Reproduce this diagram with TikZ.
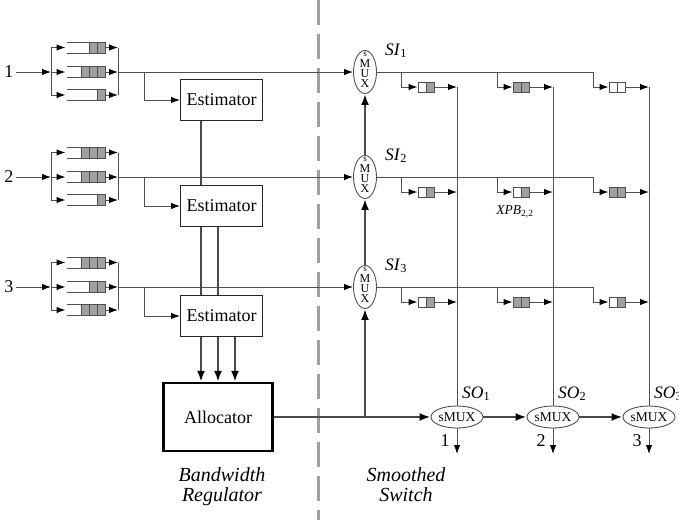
\documentclass[tikz,border=0pt]{standalone}
\usepackage{fontspec}
\setmainfont{Liberation Serif}
\usetikzlibrary{arrows.meta,shapes.geometric,calc}
\definecolor{lc}{HTML}{505050}
\definecolor{tc}{HTML}{4A4A4A}
\definecolor{cg}{HTML}{A0A0A0}
\definecolor{dg}{HTML}{A0A0A0}
\newcommand\fsz[1]{\fontsize{#1}{#1}\selectfont}
\begin{document}
\begin{tikzpicture}[x=1pt,y=-1pt,
  ln/.style={draw=lc, line width=1pt},
  arr/.style={ln, -{Latex[length=9pt,width=6.5pt,black]}},
  thk/.style={draw=tc, line width=2.2pt},
  tarr/.style={thk, -{Latex[length=11pt,width=8pt,black]}},
  estbox/.style={draw=black!85, line width=1pt, minimum width=82pt, minimum height=41pt, inner sep=0pt, font=\fsz{18}},
  allocbox/.style={draw=black, line width=2.4pt, minimum width=109pt, minimum height=68pt, inner sep=0pt, font=\fsz{18}},
  qnode/.style={minimum width=38pt, minimum height=11pt, inner sep=0pt, outer sep=0pt},
  bnode/.style={minimum width=16pt, minimum height=10pt, inner sep=0pt, outer sep=0pt},
  cell/.style={draw=lc, line width=0.7pt, fill=cg},
  smuxv/.style={ellipse, draw=lc, line width=0.9pt, minimum width=23pt, minimum height=43pt, inner sep=0pt},
  smuxh/.style={ellipse, draw=lc, line width=0.9pt, minimum width=52pt, minimum height=22pt, inner sep=0pt},
  lab/.style={font=\fsz{18}, inner sep=0pt},
  mletter/.style={font=\fsz{12}, inner sep=0pt},
  captxt/.style={font=\fsz{20}\itshape, anchor=base, inner sep=0pt}
]
\useasboundingbox (0,0) rectangle (679,520);

% dashed divider
\coordinate (dtop) at (318,0);
\coordinate (dbot) at (318,520);
\draw[dg, line width=3pt, dash pattern=on 25pt off 9pt] (dtop) -- (dbot);

% estimators and allocator
\node[estbox] (est1) at (221.5,100) {Estimator};
\node[estbox] (est2) at (221.5,206) {Estimator};
\node[estbox] (est3) at (221.5,316) {Estimator};
\node[allocbox] (alloc) at (218,417) {Allocator};

% input side
\foreach \i/\y/\a/\b/\c in {1/72/2/3/1, 2/177/3/3/1, 3/287/3/2/3} {
  \node[lab] (in\i) at (9,\y) {\i};
  \coordinate (ia\i) at (16,\y);
  \foreach \j/\dy/\n in {1/-24.5/\a, 2/0/\b, 3/23/\c} {
    \node[qnode] (q\i\j) at (86,\y+\dy) {};
    \coordinate (sp\i\j) at (51,\y+\dy);
    \coordinate (mp\i\j) at (118,\y+\dy);
    \draw[ln] (q\i\j.north west) -- (q\i\j.north east) -- (q\i\j.south east) -- (q\i\j.south west);
    \foreach \k in {1,...,\n} {
      \draw[cell] ($(q\i\j.north east)+({-8*\k},0)$) rectangle ($(q\i\j.south east)+({-8*(\k-1)},0)$);
    }
    \draw[arr, shorten >=1.5pt] (sp\i\j) -- (q\i\j.west);
    \draw[arr] (q\i\j.east) -- (mp\i\j);
  }
  \draw[ln] (sp\i1) -- (sp\i3);
  \draw[ln] (mp\i1) -- (mp\i3);
  \draw[arr] (ia\i) -- (sp\i2);
  % smoothed input multiplexer
  \node[smuxv] (si\i) at (365,\y) {};
  \node[font=\fsz{9}, inner sep=0pt, anchor=base] (ss\i) at (365,\y-15.5) {s};
  \node[mletter, anchor=base] (sm\i) at (365,\y-5) {M};
  \node[mletter, anchor=base] (su\i) at (365,\y+5) {U};
  \node[mletter, anchor=base] (sx\i) at (365,\y+15) {X};
  \node[font=\fsz{17.5}, anchor=base west, inner sep=0pt] (sil\i) at (385,\y-17) {\textit{SI}\textsubscript{\i}};
  \draw[arr] (mp\i2) -- (si\i.west);
  \coordinate (br\i) at (144,\y);
  \draw[arr] (br\i) |- (est\i.west);
}

% estimator chain
\draw[thk] ([xshift=-20.5pt]est1.south) -- ([xshift=-20.5pt]est2.north);
\draw[thk] ([xshift=-20.5pt]est2.south) -- ([xshift=-20.5pt]est3.north);
\draw[thk] ([xshift=-3.5pt]est2.south) -- ([xshift=-3.5pt]est3.north);
\foreach \s in {-20.5,-3.5,13.5} {
  \draw[tarr] ([xshift=\s pt]est3.south) -- ([xshift=\s pt]est3.south |- alloc.north);
}

% output multiplexers
\foreach \j/\x in {1/457, 2/553, 3/649} {
  \node[smuxh] (so\j) at (\x,417) {};
  \node[font=\fsz{13.5}, inner sep=0pt] at (so\j) {sMUX};
  \node[font=\fsz{17.5}, anchor=base west, inner sep=0pt] (sol\j) at (\x+5,398) {\textit{SO}\textsubscript{\j}};
  \coordinate (out\j) at (\x,454);
  \draw[arr] (so\j.south) -- (out\j);
  \node[lab] (ol\j) at (\x-12,441) {\j};
}

% switch crosspoint buffers
\foreach \i/\y/\fa/\fb/\fc/\fd/\fe/\ff in {1/72/white/cg/cg/cg/white/white, 2/177/white/cg/white/cg/cg/cg, 3/287/white/cg/cg/cg/white/cg} {
  \foreach \j/\bx/\px/\cx/\fl/\fr in {1/426/401/457/\fa/\fb, 2/521/497/553/\fc/\fd, 3/617/593/649/\fe/\ff} {
    \node[bnode] (b\i\j) at (\bx,\y+15) {};
    \coordinate (bp\i\j) at (\px,\y);
    \coordinate (cp\i\j) at (\cx,\y+15);
    \draw[draw=lc, line width=0.7pt, fill=\fl] (b\i\j.north west) rectangle (b\i\j.south);
    \draw[draw=lc, line width=0.7pt, fill=\fr] (b\i\j.north) rectangle (b\i\j.south east);
    \draw[arr, shorten >=0.5pt] (bp\i\j) |- (b\i\j.west);
    \draw[arr] (b\i\j.east) -- (cp\i\j);
  }
  \draw[ln] (si\i.east) -- (bp\i3);
}
\foreach \j in {1,2,3} { \draw[ln] (cp1\j) -- (so\j.north); }

\node[font=\fsz{13.5}, inner sep=0pt] (xpb) at (515,212) {\textit{XPB}\textsubscript{2,2}};

% thick distribution
\coordinate (jn) at (365,417);
\draw[tarr] (alloc.east) -- (so1.west);
\draw[tarr] (jn) -- (si3.south);
\draw[tarr] (si3.north) -- (si2.south);
\draw[tarr] (si2.north) -- (si1.south);
\draw[tarr] (so1.east) -- (so2.west);
\draw[tarr] (so2.east) -- (so3.west);

% captions
\node[captxt] (c1) at (222,481) {Bandwidth};
\node[captxt] (c2) at (222,501) {Regulator};
\node[captxt] (c3) at (406,481) {Smoothed};
\node[captxt] (c4) at (406,501) {Switch};
\end{tikzpicture}
\end{document}
